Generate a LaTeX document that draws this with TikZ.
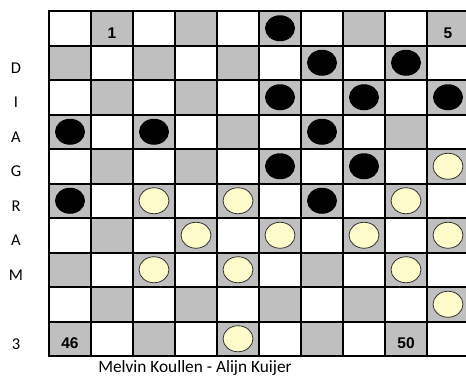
\documentclass[tikz,border=0pt]{standalone}
\usepackage{fontspec}
\setmainfont{Carlito}
\newfontfamily\numfont{Liberation Sans}
\usepackage{tikz}
\usetikzlibrary{positioning}

\begin{document}
\begin{tikzpicture}[
    x=1pt, y=-1pt,
    darksq/.style={fill=black!25},
    gridline/.style={draw=black, line width=2pt},
    blackman/.style={fill=black},
    whiteman/.style={fill=yellow!20, draw=black!80, line width=0.8pt},
    sqnum/.style={font=\numfont\bfseries\fontsize{15.5}{15.5}\selectfont, inner sep=0pt},
    rowlabel/.style={font=\fontsize{16.5}{16.5}\selectfont, inner sep=0pt},
    credit/.style={font=\fontsize{17.3}{17.3}\selectfont, inner sep=0pt},
    ]

    \useasboundingbox (0,0) rectangle (466,376);
    \clip (0,0) rectangle (466,376);

    % board squares
    \foreach \r in {1,...,10} {
        \foreach \c in {1,...,10} {
            \pgfmathparse{int(mod(\r+\c,2))}
            \ifnum\pgfmathresult=1
                \fill[darksq] ({49+(\c-1)*42},{11+(\r-1)*34.5}) rectangle ++(42,34.5);
            \fi
        }
    }
    \foreach \i in {0,...,10} {
        \draw[gridline] ({49+\i*42},11) -- ({49+\i*42},356);
        \draw[gridline] (48,{11+\i*34.5}) -- (470,{11+\i*34.5});
    }

    % pieces (row/column)
    \foreach \r/\c in {1/6,2/7,2/9,3/6,3/8,3/10,4/1,4/3,4/7,5/6,5/8,6/1,6/7}
        \fill[blackman] ({49+(\c-0.5)*42},{11+(\r-0.5)*34.5}) ellipse (15 and 13);
    \foreach \r/\c in {5/10,6/3,6/5,6/9,7/4,7/6,7/8,7/10,8/3,8/5,8/9,9/10,10/5}
        \filldraw[whiteman] ({49+(\c-0.5)*42},{11+(\r-0.5)*34.5}) ellipse (15 and 13);

    % square numbers
    \node[sqnum] (n1) at (112,33) {1};
    \node[sqnum] (n5) at (448,33) {5};
    \node[sqnum] (n46) at (70,343.5) {46};
    \node[sqnum] (n50) at (406,343.5) {50};

    % row labels
    \foreach \r/\t in {2/D,3/I,4/A,5/G,6/R,7/A,8/M,10/3}
        \node[rowlabel] (lab\r) at (16,{11+(\r-0.5)*34.5+5}) {\t};

    \node[credit] (names) at (195,368) {Melvin Koullen - Alijn Kuijer};
\end{tikzpicture}
\end{document}
